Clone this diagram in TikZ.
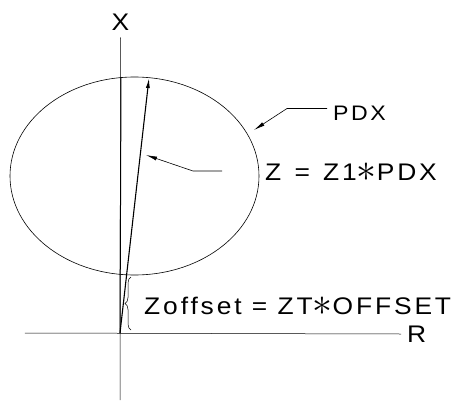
\documentclass[tikz,border=0pt]{standalone}
\usepackage{fontspec}
\newfontfamily\cadfont[FakeStretch=1.1,LetterSpace=12]{Liberation Sans}
\usepackage{tikz}
\usetikzlibrary{arrows.meta,decorations.pathreplacing,calc}

\newcommand{\starop}{\raisebox{-1pt}{\scalebox{1.6}{$\ast$}}}

\begin{document}
\begin{tikzpicture}[x=1pt,y=1pt,
		lbl/.style={inner sep=0pt, anchor=west, font=\cadfont\fontsize{24}{24}\selectfont},
		axisline/.style={line width=0.5pt},
		vec/.style={line width=1.1pt, -{Latex[length=10pt,width=4pt]}},
		lead/.style={line width=0.6pt, -{Latex[length=11pt,width=4pt]}}]
		\useasboundingbox (-120,-72) rectangle (353,333);

		\coordinate (O) at (0,0);
		\coordinate (xbot) at (0,-67);
		\coordinate (rleft) at (-95,0);
		\coordinate (top) at (1,256);
		\coordinate (ztip) at (29,255);
		\coordinate (pdxtip) at (134,203);
		\coordinate (zlead) at (102,162);
		\coordinate (zvtip) at (26,178);

		\node[lbl, anchor=center] (xlab) at (0.5,311) {X};
		\node[lbl] (rlab) at (287,-1) {R};
		\node[lbl, font=\cadfont\fontsize{21}{21}\selectfont] (pdxlab) at (213,219.5) {PDX};
		\node[lbl] (zlab) at (145,160.5) {Z\hspace{3pt} = \hspace{3pt}Z1\starop PDX};
		\node[lbl] (offlab) at (24,26.5) {Zoffset = ZT\starop OFFSET};

		\draw[axisline] ([yshift=-7pt]xlab.south) -- (xbot);
		\draw[axisline] (rleft) -- ([xshift=-6pt]rlab.west);

		\draw[line width=0.6pt] (14.5,157) ellipse [x radius=124.5, y radius=99];

		\draw[line width=1pt] (O) -- (top);
		\draw[vec] (O) -- (ztip);

		\draw[lead] ([shift={(-6pt,5pt)}]pdxlab.west) -- ++(-40,0) -- (pdxtip);
		\draw[lead] (zlead) -- ++(-29,0) -- (zvtip);

		\draw[axisline, decorate, decoration={brace, amplitude=6pt}] (11,3) -- (11,56);
	\end{tikzpicture}
\end{document}
